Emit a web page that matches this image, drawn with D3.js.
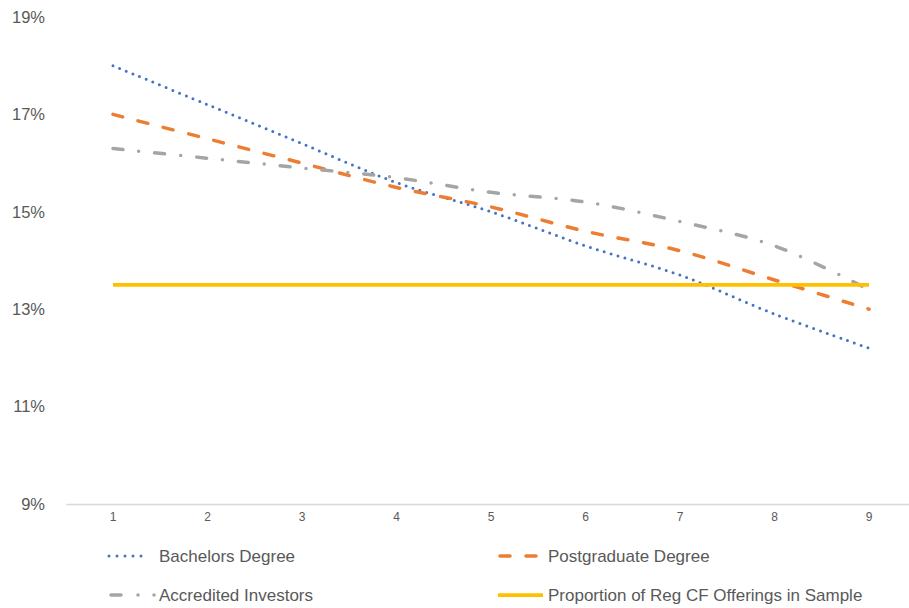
<!DOCTYPE html>
<html>
<head>
<meta charset="utf-8">
<script src="https://cdn.jsdelivr.net/npm/d3@7"></script>
<style>
  html, body { margin: 0; padding: 0; background: #fff; }
  svg { display: block; font-family: "Liberation Sans", Arial, sans-serif; }
</style>
</head>
<body>
<svg id="chart" width="909" height="608"></svg>
<script>
const categories = [1, 2, 3, 4, 5, 6, 7, 8, 9];
const bachelors   = [0.180, 0.172, 0.164, 0.156, 0.150, 0.143, 0.137, 0.129, 0.122];
const postgrad    = [0.170, 0.165, 0.160, 0.155, 0.151, 0.146, 0.142, 0.136, 0.130];
const accredited  = [0.163, 0.161, 0.159, 0.157, 0.154, 0.152, 0.148, 0.143, 0.134];
const proportion  = [0.135, 0.135, 0.135, 0.135, 0.135, 0.135, 0.135, 0.135, 0.135];
const yTicks = [0.09, 0.11, 0.13, 0.15, 0.17, 0.19];

const seriesNames = ["Bachelors Degree", "Postgraduate Degree", "Accredited Investors", "Proportion of Reg CF Offerings in Sample"];

const series = [
  { name: seriesNames[0], values: bachelors,  color: "#4472C4", width: 3,    dash: "0 7.2", cap: "round", curve: true,
    legend: { x1: 109, x2: 149, y: 556, dash: "0 8", tx: 159 } },
  { name: seriesNames[1], values: postgrad,   color: "#ED7D31", width: 3.5,  dash: "10 16", cap: "round", curve: true,
    legend: { x1: 500, x2: 536, y: 556, dash: "10 16", tx: 548 } },
  { name: seriesNames[2], values: accredited, color: "#A5A5A5", width: 3.5,  dash: "10 16 0 16", cap: "round", curve: true,
    legend: { x1: 111, x2: 155.5, y: 595, dash: "10 17 0.01 16 0.01 100", tx: 159 } },
  { name: seriesNames[3], values: proportion, color: "#FFC000", width: 3.75, dash: null, cap: "butt", curve: false,
    legend: { x1: 498, x2: 543, y: 595, dash: null, tx: 548 } }
];

const svg = d3.select("#chart");
const plot = { left: 65.75, right: 916.25, top: 17, bottom: 504 };

const x = d3.scaleBand().domain(categories).range([plot.left, plot.right]).padding(0);
const cx = d => x(d) + x.bandwidth() / 2;
const y = d3.scaleLinear().domain([0.09, 0.19]).range([plot.bottom, plot.top]);

// Y axis labels
const yAxis = d3.axisLeft(y).tickValues(yTicks).tickFormat(d3.format(".0%")).tickSize(0).tickPadding(0);
const yg = svg.append("g").attr("transform", "translate(45,0)").call(yAxis);
yg.select(".domain").remove();
yg.selectAll("text").attr("fill", "#595959").attr("font-size", "16.5px")
  .attr("font-family", "Liberation Sans, Arial, sans-serif");

// X axis
const xAxis = d3.axisBottom(x).tickSize(0).tickPadding(0);
const xg = svg.append("g").attr("transform", `translate(0,${plot.bottom})`).call(xAxis);
xg.select(".domain").attr("stroke", "#D9D9D9").attr("stroke-width", 1.3);
xg.selectAll("text").attr("fill", "#595959").attr("font-size", "12px").attr("dy", "1.45em")
  .attr("font-family", "Liberation Sans, Arial, sans-serif");

// Lines
series.forEach(s => {
  const line = d3.line()
    .x((v, i) => cx(categories[i]))
    .y(v => y(v))
    .curve(s.curve ? d3.curveCatmullRom.alpha(0.5) : d3.curveLinear);
  const p = svg.append("path")
    .datum(s.values)
    .attr("d", line)
    .attr("fill", "none")
    .attr("stroke", s.color)
    .attr("stroke-width", s.width)
    .attr("stroke-linecap", s.cap);
  if (s.dash) p.attr("stroke-dasharray", s.dash);
});

// Legend
series.forEach(s => {
  const lp = s.legend;
  const g = svg.append("g");
  const l = g.append("line")
    .attr("x1", lp.x1).attr("x2", lp.x2)
    .attr("y1", lp.y).attr("y2", lp.y)
    .attr("stroke", s.color).attr("stroke-width", s.width)
    .attr("stroke-linecap", s.cap);
  if (lp.dash) l.attr("stroke-dasharray", lp.dash);
  g.append("text")
    .attr("x", lp.tx).attr("y", lp.y).attr("dy", "0.36em")
    .attr("fill", "#595959").attr("font-size", "17px")
    .text(s.name);
});
</script>
</body>
</html>
